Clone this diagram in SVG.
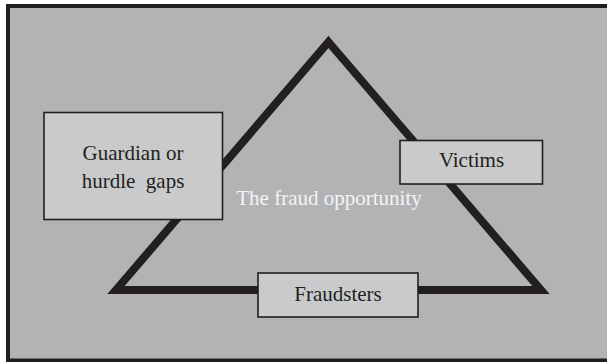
<svg xmlns="http://www.w3.org/2000/svg" width="607" height="362" viewBox="0 0 607 362">
<style>
.box{fill:#c9cacc;stroke:#231f20;stroke-width:1.6}
.lbl{font-family:"Liberation Serif","Times New Roman",serif;font-size:21px;fill:#231f20;text-anchor:middle;white-space:pre}
</style>
<rect x="0" y="0" width="607" height="362" fill="#ffffff"/>
<rect id="frame" x="8" y="6" width="620" height="354.5" fill="#b2b3b5" stroke="#231f20" stroke-width="4"/>
<g id="connectors">
<polygon points="328.5,42 541,290 116,290" fill="none" stroke="#231f20" stroke-width="8" stroke-linejoin="miter" stroke-miterlimit="10"/>
</g>
<g id="center-label">
<text x="329" y="205" class="lbl" style="fill:#f4f4f4">The fraud opportunity</text>
</g>
<g id="guardian">
<rect class="box" x="44" y="112.5" width="178.5" height="107"/>
<text class="lbl" x="133" y="160">Guardian or</text>
<text class="lbl" x="133" y="188" xml:space="preserve">hurdle  gaps</text>
</g>
<g id="victims">
<rect class="box" x="400" y="140.5" width="142.5" height="43.5"/>
<text class="lbl" x="471.5" y="167">Victims</text>
</g>
<g id="fraudsters">
<rect class="box" x="258" y="273" width="160" height="44"/>
<text class="lbl" x="338" y="301">Fraudsters</text>
</g>
</svg>
